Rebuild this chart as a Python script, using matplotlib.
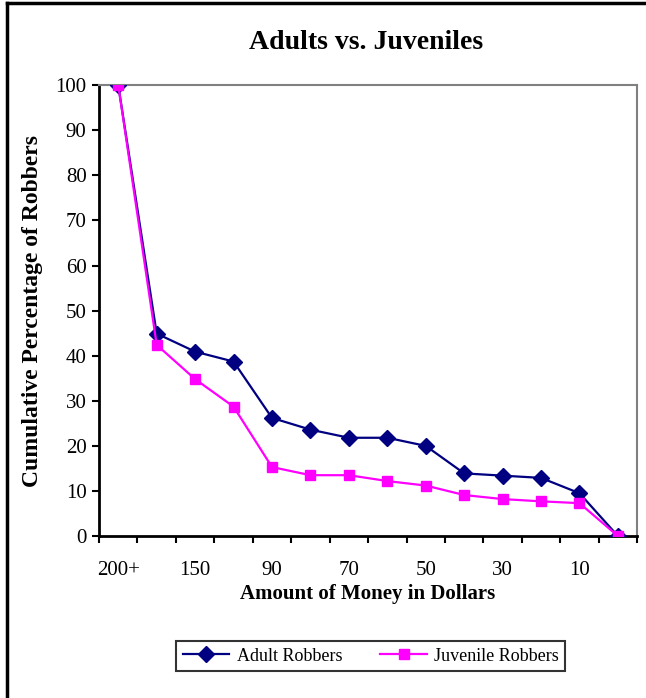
import matplotlib.pyplot as plt
import numpy as np

plt.rcParams['font.family'] = ['Liberation Serif', 'DejaVu Serif']

amounts = ['200+', '175', '150', '100', '90', '80', '70', '60', '50', '40', '30', '20', '10', '0']
shown_labels = ['200+', '', '150', '', '90', '', '70', '', '50', '', '30', '', '10', '']
adult = [100, 44.9, 40.9, 38.7, 26.2, 23.6, 21.8, 21.8, 20.0, 13.9, 13.4, 12.9, 9.5, 0]
juvenile = [100, 42.4, 34.8, 28.7, 15.3, 13.5, 13.5, 12.2, 11.2, 9.1, 8.2, 7.7, 7.3, 0]

fig = plt.figure(figsize=(6.46, 6.98), dpi=100)
ax = fig.add_axes([0.1533, 0.232, 0.833, 0.646])

x = np.arange(len(amounts))
ax.plot(x, adult, color='#000080', marker='D', markersize=8, linewidth=1.6,
        label='Adult Robbers', zorder=3)
ax.plot(x, juvenile, color='#FF00FF', marker='s', markersize=7.5, linewidth=1.6,
        markerfacecolor='#FF00FF', markeredgecolor='#FF00FF', label='Juvenile Robbers', zorder=4)

ax.set_xlim(-0.5, len(amounts) - 0.5)
ax.set_ylim(0, 100)
ax.set_yticks(np.arange(0, 101, 10))
ax.set_xticks(np.arange(-0.5, len(amounts), 1), minor=False)
ax.set_xticklabels([''] * (len(amounts) + 1))
ax.set_xticks(x, minor=True)
ax.set_xticklabels(shown_labels, minor=True)
ax.tick_params(axis='x', which='minor', length=0, labelsize=15, pad=18)
ax.tick_params(axis='x', which='major', length=5, width=1.5, direction='out')
ax.tick_params(axis='y', length=5, width=1.5, direction='out', labelsize=15, pad=4)

for side in ['left', 'bottom']:
    ax.spines[side].set_linewidth(2)
    ax.spines[side].set_color('black')
for side in ['top', 'right']:
    ax.spines[side].set_linewidth(1.5)
    ax.spines[side].set_color('#808080')

ax.set_xlabel('Amount of Money in Dollars', fontsize=15, fontweight='bold', labelpad=3)
ax.set_ylabel('Cumulative Percentage of Robbers', fontsize=17, fontweight='bold', labelpad=9)
fig.text(0.567, 0.939, 'Adults vs. Juveniles', ha='center', va='center',
         fontsize=20, fontweight='bold')

leg = fig.legend(loc='center', bbox_to_anchor=(0.574, 0.060), ncol=2, fontsize=13,
                 frameon=True, fancybox=False, edgecolor='black', handlelength=2.6,
                 handletextpad=0.4, columnspacing=2.1, borderpad=0.35)
leg.get_frame().set_linewidth(1.5)

# figure border on left and top
fig.add_artist(plt.Line2D([0.011, 0.011], [0, 0.996], color='black', linewidth=2.5,
                          transform=fig.transFigure))
fig.add_artist(plt.Line2D([0.011, 1.0], [0.996, 0.996], color='black', linewidth=2.5,
                          transform=fig.transFigure))

fig.savefig('out.png', dpi=100)
